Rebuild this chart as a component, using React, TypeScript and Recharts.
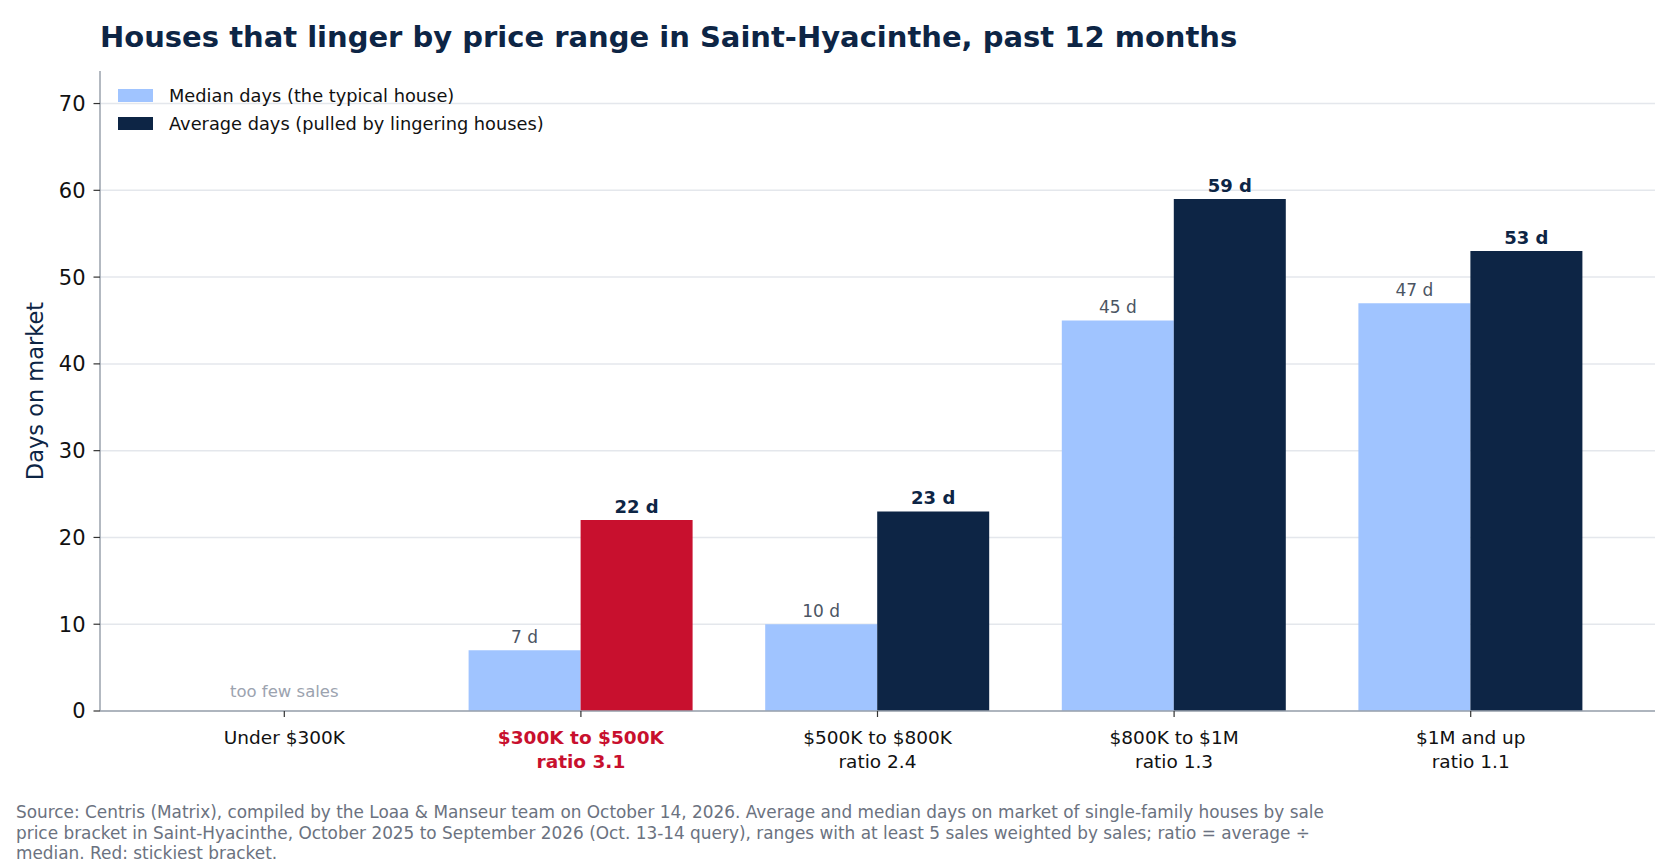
import React from "react";
import {
  Bar,
  BarChart,
  CartesianGrid,
  Cell,
  LabelList,
  Legend,
  ReferenceDot,
  XAxis,
  YAxis,
} from "recharts";

const categories = [
  "Under $300K",
  "$300K to $500K",
  "$500K to $800K",
  "$800K to $1M",
  "$1M and up",
];
const ratios: (string | null)[] = [null, "3.1", "2.4", "1.3", "1.1"];
const medianDays: (number | null)[] = [null, 7, 10, 45, 47];
const averageDays: (number | null)[] = [null, 22, 23, 59, 53];
const stickiest = "$300K to $500K";
const yTicks = [0, 10, 20, 30, 40, 50, 60, 70];
const Y_MAX = 73.75;

const MEDIAN_NAME = "Median days (the typical house)";
const AVERAGE_NAME = "Average days (pulled by lingering houses)";
const legendOrder = [MEDIAN_NAME, AVERAGE_NAME];

const NAVY = "#0d2545";
const LIGHT = "#a0c4ff";
const RED = "#c8102e";
const FONT = "'DejaVu Sans', sans-serif";

const data = categories.map((name, i) => ({
  name,
  ratio: ratios[i],
  median: medianDays[i],
  average: averageDays[i],
}));

const footerLines = [
  "Source: Centris (Matrix), compiled by the Loaa & Manseur team on October 14, 2026. Average and median days on market of single-family houses by sale",
  "price bracket in Saint-Hyacinthe, October 2025 to September 2026 (Oct. 13-14 query), ranges with at least 5 sales weighted by sales; ratio = average ÷",
  "median. Red: stickiest bracket.",
];

function dayLabel(v: unknown) {
  return v == null ? "" : `${v} d`;
}

function CategoryTick({ x, y, payload, index }: any) {
  const hot = payload.value === stickiest;
  const ratio = ratios[index ?? categories.indexOf(payload.value)];
  const color = hot ? RED : "#111111";
  return (
    <g transform={`translate(${x},${y})`}>
      <text
        textAnchor="middle"
        y={24.5}
        fill={color}
        fontSize={18.5}
        fontWeight={hot ? 700 : 400}
        fontFamily={FONT}
      >
        {payload.value}
      </text>
      {ratio ? (
        <text
          textAnchor="middle"
          y={48.5}
          fill={color}
          fontSize={18.5}
          fontWeight={hot ? 700 : 400}
          fontFamily={FONT}
        >
          ratio {ratio}
        </text>
      ) : null}
    </g>
  );
}

function LegendBox({ payload }: any) {
  const items = [...(payload ?? [])].sort(
    (a: any, b: any) => legendOrder.indexOf(a.value) - legendOrder.indexOf(b.value)
  );
  return (
    <div style={{ fontFamily: FONT, fontSize: 17.8, color: "#111" }}>
      {items.map((item: any) => (
        <div
          key={item.value}
          style={{ display: "flex", alignItems: "center", height: 28 }}
        >
          <span
            style={{
              display: "inline-block",
              width: 35,
              height: 13,
              background: item.color,
              marginRight: 16,
            }}
          />
          {item.value}
        </div>
      ))}
    </div>
  );
}

export default function App() {
  return (
    <div
      style={{
        position: "absolute",
        left: 0,
        top: 0,
        width: 1680,
        height: 868,
        background: "#fff",
        fontFamily: FONT,
      }}
    >
      <div
        style={{
          position: "absolute",
          left: 100,
          top: 19,
          fontSize: 29,
          fontWeight: 700,
          color: NAVY,
          lineHeight: "36px",
          whiteSpace: "nowrap",
        }}
      >
        Houses that linger by price range in Saint-Hyacinthe, past 12 months
      </div>

      <div style={{ position: "absolute", left: 0, top: 0 }}>
        <BarChart
          width={1680}
          height={868}
          data={data}
          margin={{ top: 71, right: 25, bottom: 95, left: 0 }}
          barSize={112}
          barGap={0}
        >
          <CartesianGrid
            vertical={false}
            stroke="#e4e7ec"
            strokeWidth={1.5}
            horizontalCoordinatesGenerator={({ offset }: any) =>
              yTicks.map(
                (t) => offset.top + offset.height * (1 - t / Y_MAX)
              )
            }
          />
          <XAxis
            dataKey="name"
            height={62}
            padding={{ left: 36, right: 36 }}
            axisLine={{ stroke: "#9aa2ad", strokeWidth: 1.5 }}
            tickLine={{ stroke: "#333", strokeWidth: 1.2 }}
            tickSize={6}
            tick={<CategoryTick />}
            interval={0}
          />
          <YAxis
            width={100}
            domain={[0, Y_MAX]}
            ticks={yTicks}
            allowDataOverflow
            axisLine={{ stroke: "#9aa2ad", strokeWidth: 1.5 }}
            tickLine={{ stroke: "#333", strokeWidth: 1.2 }}
            tickSize={6.5}
            tickMargin={8}
            tick={{ fill: "#111", fontSize: 21, fontFamily: FONT }}
            label={(props: any) => {
              const vb = props.viewBox ?? {};
              const cy = (vb.y ?? 71) + (vb.height ?? 642) / 2;
              return (
                <text
                  x={35}
                  y={cy}
                  transform={`rotate(-90 35 ${cy})`}
                  textAnchor="middle"
                  dominantBaseline="central"
                  fill={NAVY}
                  fontSize={22.5}
                  fontFamily={FONT}
                >
                  Days on market
                </text>
              );
            }}
          />
          <Legend
            layout="vertical"
            align="center"
            verticalAlign="middle"
            wrapperStyle={{ left: 118, top: 81, width: 520, height: 60 }}
            content={<LegendBox />}
          />
          <Bar
            dataKey="median"
            name={MEDIAN_NAME}
            fill={LIGHT}
            isAnimationActive={false}
          >
            <LabelList
              dataKey="median"
              position="top"
              offset={7}
              formatter={dayLabel}
              fill="#4b5563"
              fontSize={17}
              fontFamily={FONT}
            />
          </Bar>
          <Bar
            dataKey="average"
            name={AVERAGE_NAME}
            fill={NAVY}
            isAnimationActive={false}
          >
            {data.map((d) => (
              <Cell key={d.name} fill={d.name === stickiest ? RED : NAVY} />
            ))}
            <LabelList
              dataKey="average"
              position="top"
              offset={7}
              formatter={dayLabel}
              fill={NAVY}
              fontSize={18}
              fontWeight={700}
              fontFamily={FONT}
            />
          </Bar>
          <ReferenceDot
            x={categories[0]}
            y={0}
            r={0}
            fill="none"
            stroke="none"
            label={{
              value: "too few sales",
              position: "top",
              offset: 14,
              fill: "#9ca3af",
              fontSize: 16.5,
              fontFamily: FONT,
            }}
          />
        </BarChart>
      </div>

      <div
        style={{
          position: "absolute",
          left: 16,
          top: 802,
          fontSize: 16.9,
          lineHeight: "20.5px",
          color: "#6b7280",
          whiteSpace: "nowrap",
        }}
      >
        {footerLines.map((line) => (
          <div key={line}>{line}</div>
        ))}
      </div>
    </div>
  );
}
